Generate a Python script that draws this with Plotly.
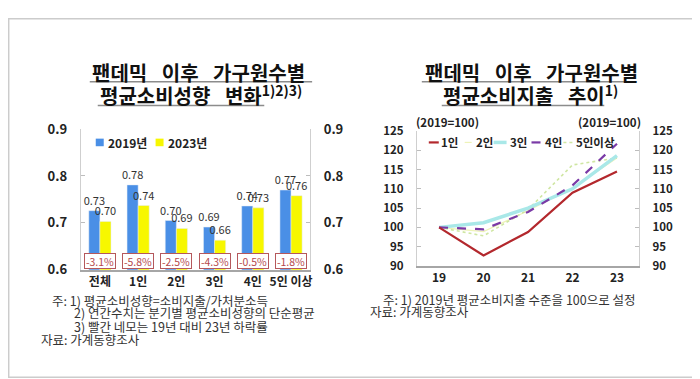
import plotly.graph_objects as go

# ---------------- data ----------------
categories = ["전체", "1인", "2인", "3인", "4인", "5인 이상"]
apc_2019 = [0.726, 0.781, 0.705, 0.691, 0.736, 0.770]
apc_2023 = [0.703, 0.737, 0.688, 0.663, 0.732, 0.758]
change_pct = [-3.1, -5.8, -2.5, -4.3, -0.5, -1.8]

years = ["19", "20", "21", "22", "23"]
spend_1 = [100, 92.7, 98.8, 109.0, 114.5]
spend_2 = [100, 98.9, 104.3, 110.2, 118.0]
spend_3 = [100, 101.2, 105.0, 110.0, 118.6]
spend_4 = [100, 99.5, 104.0, 110.9, 121.7]
spend_5 = [100, 97.8, 104.6, 116.2, 118.0]

W, H = 700, 379
FONT = "Noto Sans CJK KR"
SP = "\u2002 "

def px(x):
    return x / W

def py(y):
    return 1 - y / H

fig = go.Figure()

# ---------------- left chart: bars ----------------
for name, vals, col in [("2019년", apc_2019, "#4a8fe6"), ("2023년", apc_2023, "#f7f700")]:
    fig.add_trace(go.Bar(
        x=categories, y=vals, name=name, marker_color=col,
        text=[f"{v:.2f}" for v in vals], textposition="outside",
        constraintext="none",
        textfont=dict(size=11, color="#333", family=FONT), cliponaxis=False,
        xaxis="x", yaxis="y", showlegend=False,
    ))
# invisible trace to carry the right-hand axis
fig.add_trace(go.Scatter(x=categories, y=apc_2019, mode="markers",
                         marker=dict(opacity=0), hoverinfo="skip",
                         xaxis="x", yaxis="y2", showlegend=False))

# ---------------- right chart: lines ----------------
line_specs = [
    ("1인", spend_1, dict(color="#b3282d", width=2.2)),
    ("2인", spend_2, dict(color="#eef3b8", width=1.2)),
    ("3인", spend_3, dict(color="#a9e8e8", width=3.5)),
    ("4인", spend_4, dict(color="#7a3aa6", width=2.2, dash="dash")),
    ("5인이상", spend_5, dict(color="#cfe6a2", width=1.6, dash="dot")),
]
order = [1, 4, 2, 3, 0]
for i in order:
    name, vals, ln = line_specs[i]
    fig.add_trace(go.Scatter(x=years, y=vals, mode="lines", name=name, line=ln,
                             xaxis="x3", yaxis="y3", showlegend=False))
fig.add_trace(go.Scatter(x=years, y=spend_1, mode="markers",
                         marker=dict(opacity=0), hoverinfo="skip",
                         xaxis="x3", yaxis="y4", showlegend=False))

tickfont_l = dict(size=13, color="#222", family=FONT, weight="bold")
tickfont_x = dict(size=12, color="#222", family=FONT, weight="bold")
tickfont_r = dict(size=11.5, color="#222", family=FONT, weight="bold")

common_y = dict(showgrid=False, zeroline=False, showline=True, linecolor="#cfcfcf",
                linewidth=1, ticks="inside", ticklen=4, tickcolor="#bdbdbd",
                ticklabelstandoff=10)

fig.update_layout(
    width=W, height=H,
    margin=dict(l=0, r=0, t=0, b=0),
    paper_bgcolor="white", plot_bgcolor="white",
    font=dict(family=FONT, color="#222"),
    barmode="group", bargap=0.42, bargroupgap=0.0,
    xaxis=dict(domain=[px(73), px(303)], anchor="y", type="category",
               range=[-0.5, 5.5], showgrid=False, showline=True,
               linecolor="#a6a6a6", linewidth=1.5, ticks="", tickfont=tickfont_x),
    yaxis=dict(domain=[1 - 265 / H, 1 - 117 / H], anchor="x", range=[0.6, 0.9],
               dtick=0.1, tickformat=".1f", tickfont=tickfont_l, **common_y),
    yaxis2=dict(overlaying="y", anchor="x", side="right", range=[0.6, 0.9],
                dtick=0.1, tickformat=".1f", tickfont=tickfont_l, **common_y),
    xaxis3=dict(domain=[px(410), px(633)], anchor="y3", type="category",
                range=[-0.5, 4.5], showgrid=False, showline=True,
                linecolor="#a6a6a6", linewidth=2, ticks="", tickfont=tickfont_x),
    yaxis3=dict(domain=[1 - 261 / H, 1 - 119 / H], anchor="x3", range=[90, 125],
                dtick=5, tickfont=tickfont_r, **common_y),
    yaxis4=dict(overlaying="y3", anchor="x3", side="right", range=[90, 125],
                dtick=5, tickfont=tickfont_r, **common_y),
)

annotations = []
shapes = []

# percent boxes
for c, p in zip(categories, change_pct):
    annotations.append(dict(
        x=c, y=0.619, xref="x", yref="y", text=f"{p:.1f}%", showarrow=False,
        font=dict(size=10.5, color="#b5484c", family=FONT),
        bordercolor="#b5585c", borderwidth=1, borderpad=1, bgcolor="white",
        width=28, height=12,
    ))

# titles
title_font = dict(size=20, color="#111", family=FONT, weight="bold")
titles = [
    (83, 57, f"팬데믹{SP}이후{SP}가구원수별"),
    (91, 81, f"평균소비성향{SP}변화<sup>1)2)3)</sup>"),
    (417, 57, f"팬데믹{SP}이후{SP}가구원수별"),
    (435, 81, f"평균소비지출{SP}추이<sup>1)</sup>"),
]
for x, y, t in titles:
    annotations.append(dict(x=px(x), y=py(y), xref="paper", yref="paper", text=t,
                            showarrow=False, font=title_font, xanchor="left",
                            yanchor="middle", borderpad=0))
for x0, x1, y in [(82, 305, 67), (90, 257, 92), (415, 630, 67), (435, 598, 92)]:
    shapes.append(dict(type="line", xref="paper", yref="paper",
                       x0=px(x0), x1=px(x1), y0=py(y), y1=py(y),
                       line=dict(color="#8c8c8c", width=1.5)))

# unit labels
for x, t in [(441, "(2019=100)"), (603, "(2019=100)")]:
    annotations.append(dict(x=px(x), y=py(110), xref="paper", yref="paper", text=t,
                            showarrow=False, font=dict(size=11.5, color="#222", family=FONT, weight="bold"),
                            xanchor="center", yanchor="middle"))

# left legend (custom)
leg_font = dict(size=12, color="#222", family=FONT, weight="bold")
for (sx, tx, col, name) in [(92, 98, "#4a8fe6", "2019년"), (152, 158, "#f7f700", "2023년")]:
    shapes.append(dict(type="rect", xref="paper", yref="paper",
                       x0=px(sx - 4), x1=px(sx + 4), y0=py(135), y1=py(127),
                       fillcolor=col, line=dict(width=0)))
    annotations.append(dict(x=px(tx), y=py(131), xref="paper", yref="paper", text=name,
                            showarrow=False, font=leg_font, xanchor="left", yanchor="middle"))

# right legend (custom)
leg_items = [(422, 432, 432), (458, 465, 467), (487, 500, 501), (525, 537, 537), (557, 567, 568)]
for (x0, x1, tx), (name, vals, ln) in zip(leg_items, line_specs):
    shapes.append(dict(type="line", xref="paper", yref="paper",
                       x0=px(x0), x1=px(x1), y0=py(131), y1=py(131),
                       line=dict(color=ln["color"], width=ln["width"],
                                 dash=ln.get("dash", "solid"))))
    annotations.append(dict(x=px(tx), y=py(131), xref="paper", yref="paper", text=name,
                            showarrow=False, font=dict(size=11.5, color="#222", family=FONT, weight="bold"),
                            xanchor="left", yanchor="middle"))

# footnotes
note_font = dict(size=12.5, color="#333", family=FONT)
notes = [
    (43, 297, "주: 1) 평균소비성향=소비지출/가처분소득"),
    (65, 310.5, "2) 연간수치는 분기별 평균소비성향의 단순평균"),
    (65, 324.5, "3) 빨간 네모는 19년 대비 23년 하락률"),
    (32, 338.5, "자료: 가계동향조사"),
    (375, 296, "주: 1) 2019년 평균소비지출 수준을 100으로 설정"),
    (362, 309.5, "자료: 가계동향조사"),
]
for x, y, t in notes:
    annotations.append(dict(x=px(x), y=py(y), xref="paper", yref="paper", text=t,
                            showarrow=False, font=note_font, xanchor="left",
                            yanchor="middle", borderpad=0))

# outer frame
shapes.append(dict(type="rect", xref="paper", yref="paper", x0=0.001, x1=0.999,
                   y0=0.002, y1=0.998, line=dict(color="#cccccc", width=1.5)))

fig.update_layout(annotations=annotations, shapes=shapes)
fig.write_html("out.html")
